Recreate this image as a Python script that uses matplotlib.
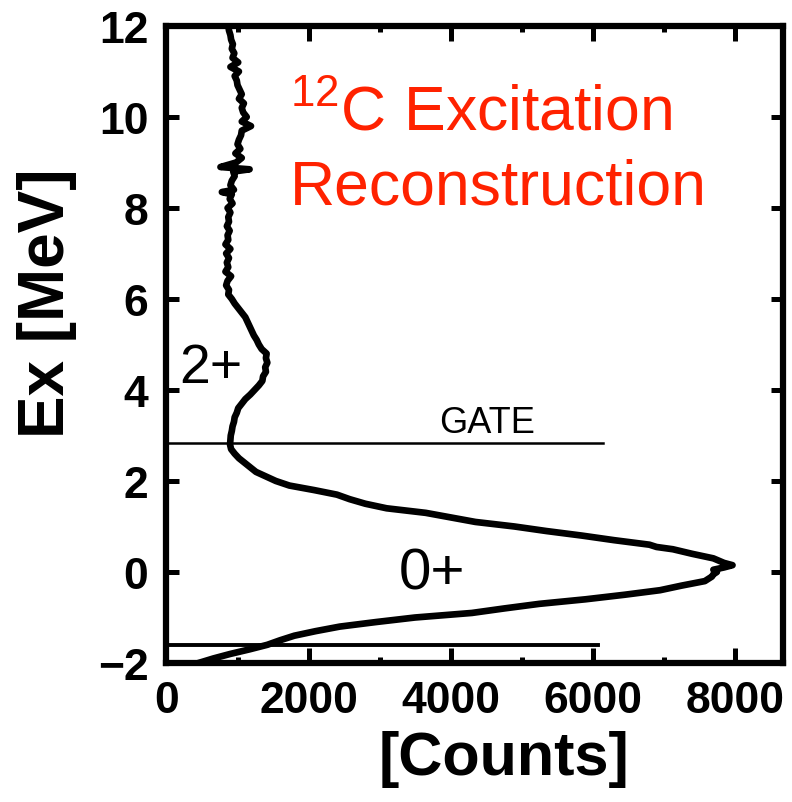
import matplotlib

matplotlib.use("Agg")
import matplotlib.pyplot as plt
from matplotlib.ticker import MultipleLocator

plt.rcParams["font.family"] = ["Liberation Sans", "DejaVu Sans"]
plt.rcParams["mathtext.default"] = "regular"

# Reconstructed excitation spectrum (Ex in MeV, counts per bin)
ex_mev = [
    12.0, 11.9, 11.8, 11.7, 11.6, 11.5, 11.4, 11.3, 11.2, 11.1,
    11.0, 10.9, 10.8, 10.7, 10.6, 10.5, 10.4, 10.3, 10.2, 10.1,
    10.0, 9.9, 9.8, 9.7, 9.6, 9.5, 9.4, 9.3, 9.2, 9.1,
    9.0, 8.9, 8.85, 8.8, 8.7, 8.6, 8.5, 8.4, 8.35, 8.3,
    8.2, 8.1, 8.0, 7.9, 7.8, 7.7, 7.6, 7.5, 7.4, 7.3,
    7.2, 7.1, 7.0, 6.9, 6.8, 6.7, 6.6, 6.5, 6.4, 6.3,
    6.2, 6.1, 6.0, 5.9, 5.8, 5.7, 5.6, 5.5, 5.4, 5.3,
    5.2, 5.1, 5.0, 4.9, 4.8, 4.7, 4.6, 4.5, 4.4, 4.3,
    4.2, 4.1, 4.0, 3.9, 3.8, 3.7, 3.6, 3.5, 3.4, 3.3,
    3.2, 3.1, 3.0, 2.9, 2.8, 2.7, 2.6, 2.5, 2.4, 2.3,
    2.2, 2.1, 2.0, 1.9, 1.8, 1.7, 1.6, 1.5, 1.4, 1.3,
    1.2, 1.1, 1.0, 0.9, 0.8, 0.7, 0.6, 0.55, 0.5, 0.4,
    0.3, 0.2, 0.15, 0.1, 0.05, 0.0, -0.05, -0.1, -0.2, -0.3,
    -0.4, -0.5, -0.6, -0.7, -0.8, -0.9, -1.0, -1.1, -1.2, -1.3,
    -1.4, -1.5, -1.6, -1.7, -1.8, -1.9, -2.0,
]
counts = [
    870, 880, 900, 910, 935, 920, 955, 930, 1010, 900,
    1020, 960, 990, 1000, 1030, 1060, 1020, 1090, 1060, 1080,
    1130, 1060, 1190, 1060, 1050, 1020, 1000, 1040, 970, 1060,
    980, 760, 1170, 940, 960, 920, 900, 950, 780, 920,
    890, 930, 860, 900, 870, 880, 850, 890, 860, 870,
    830, 900, 840, 880, 850, 870, 830, 910, 860, 840,
    880, 870, 920, 960, 1010, 1060, 1110, 1140, 1170, 1200,
    1230, 1270, 1300, 1340, 1410, 1400, 1420, 1390, 1400, 1360,
    1350, 1300, 1240, 1180, 1110, 1060, 1010, 990, 960, 950,
    930, 920, 905, 900, 895, 910, 960, 1020, 1100, 1180,
    1260, 1400, 1540, 1730, 2080, 2400, 2580, 2800, 3100, 3650,
    4000, 4350, 4900, 5350, 5850, 6300, 6800, 6900, 7130, 7400,
    7700, 7850, 7970, 7850, 7700, 7750, 7700, 7680, 7580, 7250,
    6950, 6450, 5900, 5250, 4760, 4300, 3500, 2950, 2440, 2100,
    1800, 1600, 1420, 1170, 900, 660, 450,
]

gate_ex = 2.83
gate_end = 6140
low_cut_ex = -1.6
low_cut_end = 6080

fig = plt.figure(figsize=(7.92, 8.03), dpi=100)
ax = fig.add_axes([0.2102, 0.1731, 0.7784, 0.7933])

ax.plot(counts, ex_mev, color="black", lw=4.8, solid_joinstyle="round")
ax.plot([0, gate_end], [gate_ex, gate_ex], color="black", lw=1.8)
ax.plot([0, low_cut_end], [low_cut_ex, low_cut_ex], color="black", lw=2.8)

ax.set_xlim(0, 8680)
ax.set_ylim(-2, 12)
ax.xaxis.set_major_locator(MultipleLocator(2000))
ax.xaxis.set_minor_locator(MultipleLocator(1000))
ax.yaxis.set_major_locator(MultipleLocator(2))

for s in ax.spines.values():
    s.set_linewidth(4.5)
ax.tick_params(axis="both", which="both", direction="in", top=True, right=True,
               width=3.6)
ax.tick_params(axis="x", which="major", length=11, pad=12)
ax.tick_params(axis="x", which="minor", length=4.5)
ax.tick_params(axis="y", which="major", length=9, pad=13)
for lab in ax.get_xticklabels() + ax.get_yticklabels():
    lab.set_fontsize(32)
    lab.set_fontweight("bold")

ax.set_xlabel("[Counts]", fontsize=44, fontweight="bold")
ax.xaxis.set_label_coords(0.547, -0.105)
ax.set_ylabel("Ex [MeV]", fontsize=46, fontweight="bold")
ax.yaxis.set_label_coords(-0.145, 0.567)

red = "#ff2200"
ax.text(1740, 9.74, r"$^{12}$C Excitation", color=red, fontsize=45,
        ha="left", va="baseline")
ax.text(1740, 8.09, "Reconstruction", color=red, fontsize=45,
        ha="left", va="baseline")

ax.text(625, 4.18, "2+", fontsize=40, ha="center", va="baseline")
ax.text(3740, -0.37, "0+", fontsize=42, ha="center", va="baseline")
ax.text(4520, 3.08, "GATE", fontsize=26, ha="center", va="baseline")

fig.savefig("out.png", dpi=100)
